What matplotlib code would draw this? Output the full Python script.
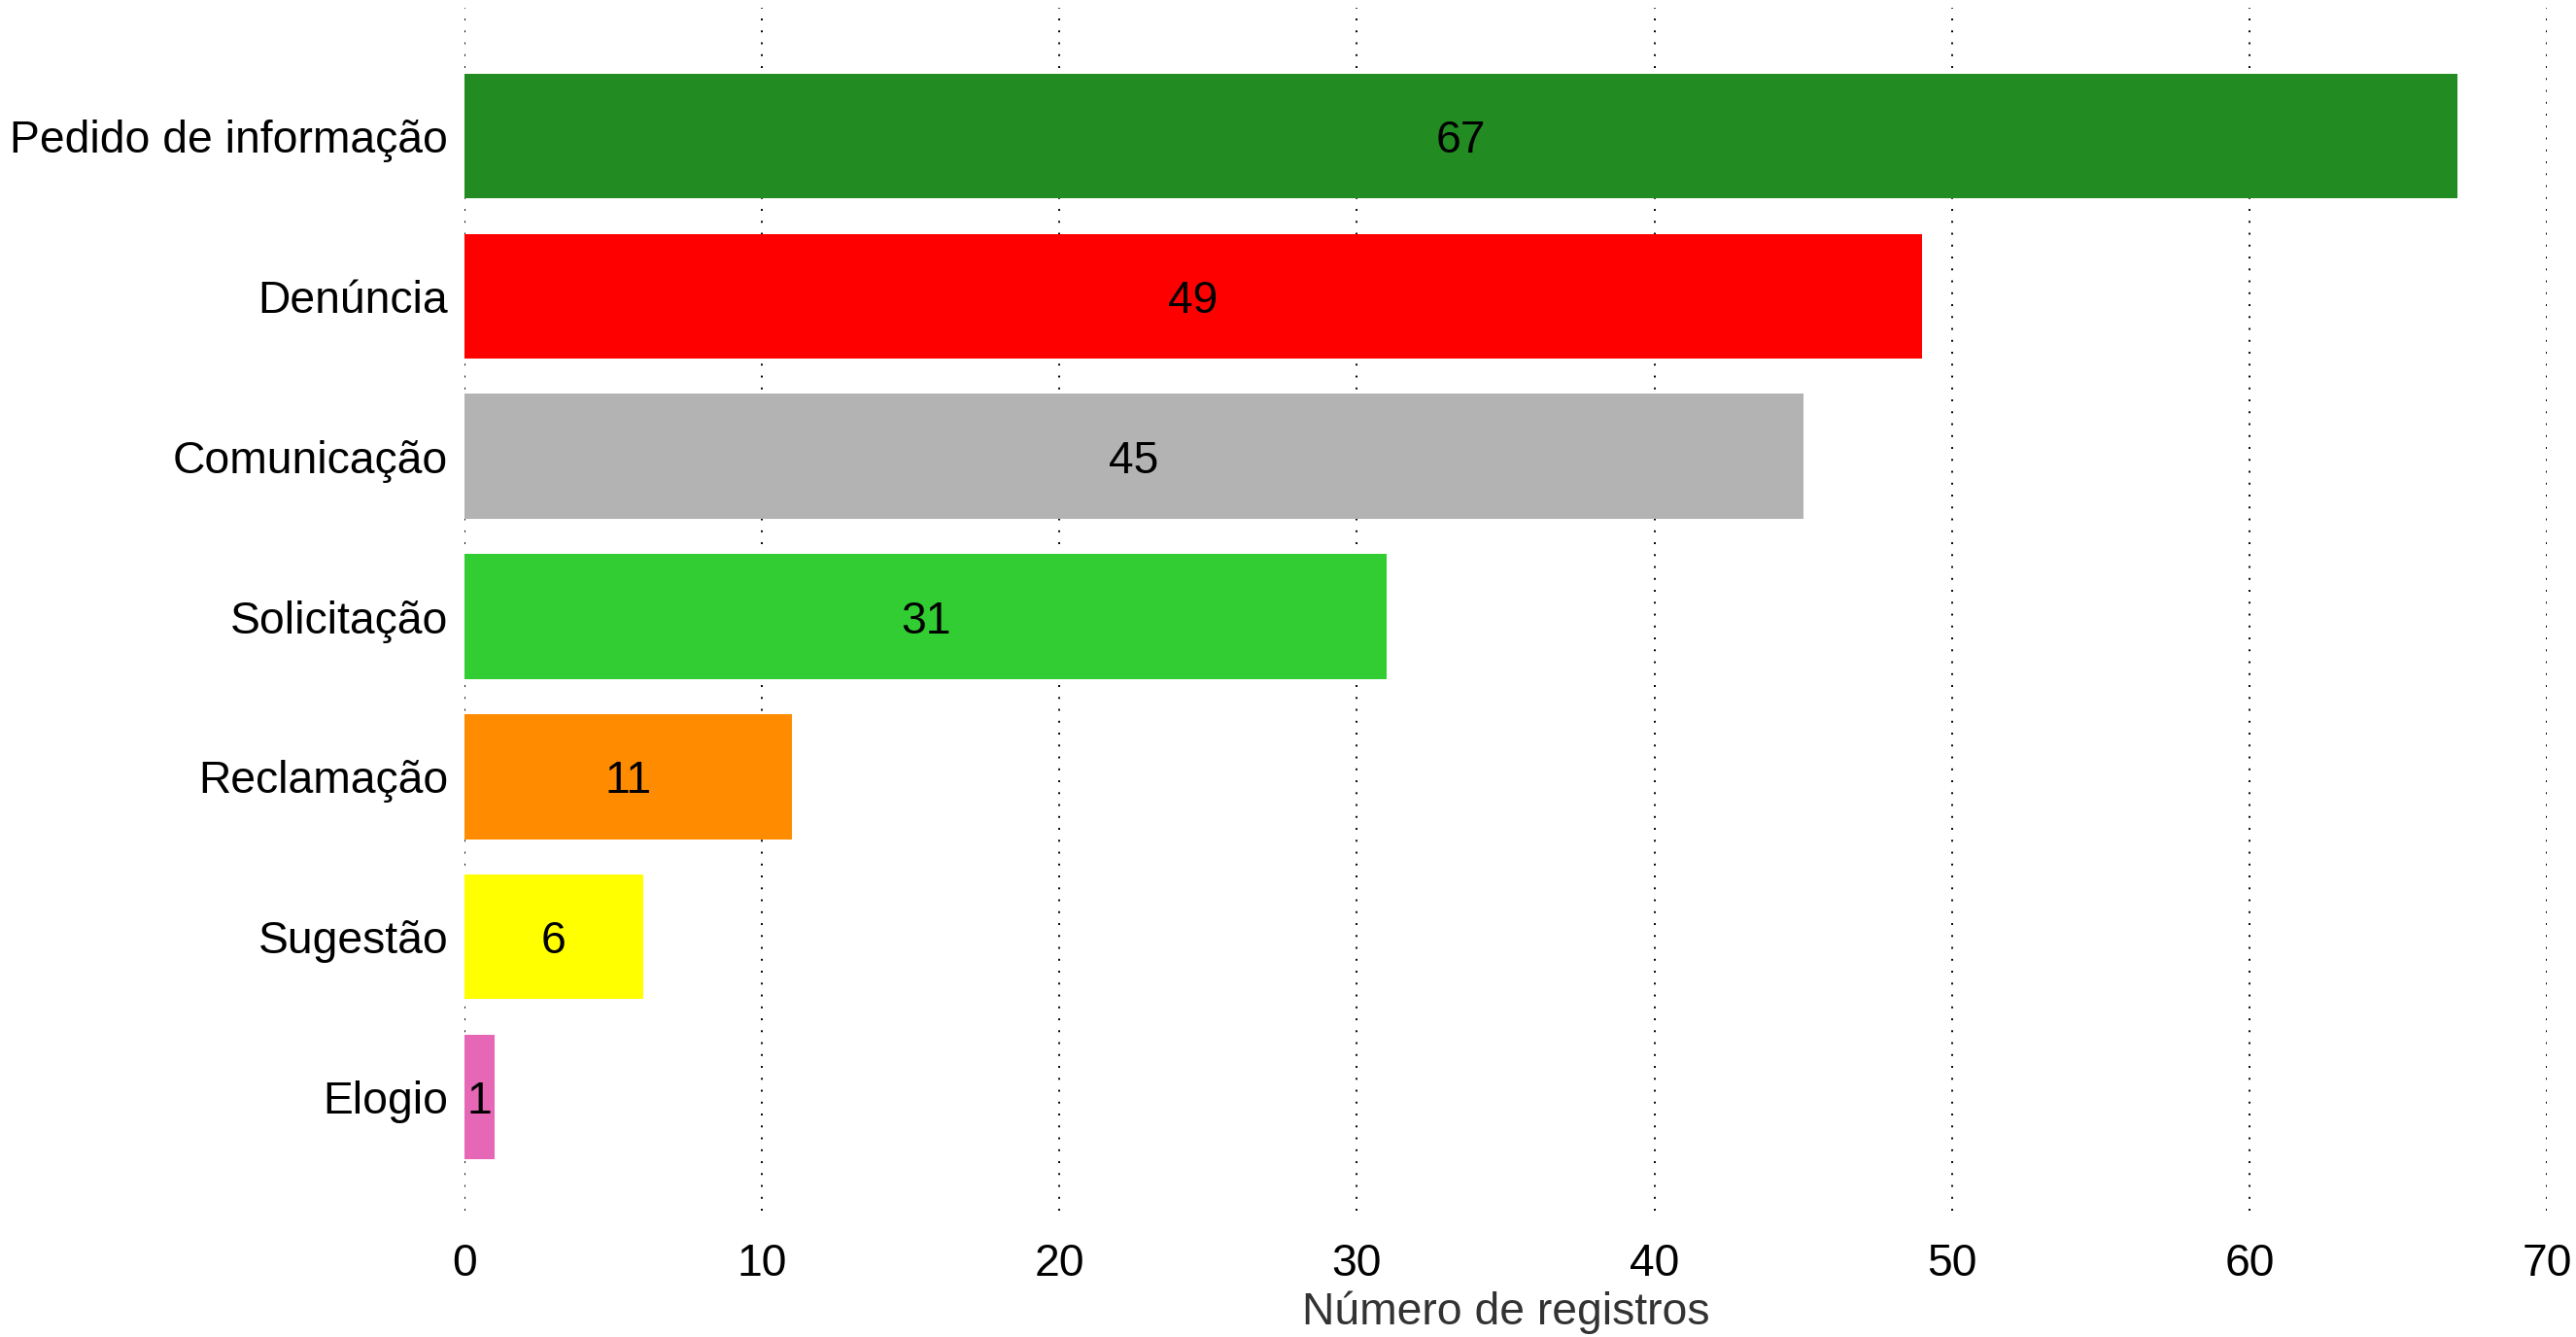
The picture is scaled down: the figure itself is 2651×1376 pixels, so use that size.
import matplotlib
matplotlib.use("Agg")
import matplotlib.pyplot as plt

plt.rcParams['font.family'] = ['Liberation Sans', 'DejaVu Sans']

# registros por tipo de manifestação (de baixo para cima)
categorias = ["Elogio", "Sugestão", "Reclamação", "Solicitação",
              "Comunicação", "Denúncia", "Pedido de informação"]
valores = [1, 6, 11, 31, 45, 49, 67]
cores = ["#E667B6", "#FFFF00", "#FF8C00", "#32CD32",
         "#B3B3B3", "#FF0000", "#228B22"]

fs = 33.3

fig = plt.figure(figsize=(26.51, 13.76), dpi=100)
ax = fig.add_axes([0.1803, 0.0945, 0.8084, 0.8995])

pos = range(len(categorias))
ax.barh(pos, valores, height=0.78, color=cores, zorder=2)

for y, v in zip(pos, valores):
    ax.text(v / 2, y, str(v), ha='center', va='center_baseline', fontsize=fs,
            color='black', zorder=3)

ax.set_yticks(list(pos))
ax.set_yticklabels(categorias, fontsize=fs)
ax.set_xticks(range(0, 71, 10))
ax.tick_params(axis='x', labelsize=fs, length=0, pad=24)
ax.tick_params(axis='y', length=0, pad=12)
ax.set_xlim(0, 70)
ax.set_ylim(-0.71, 6.8)

ax.grid(axis='x', color='black', linestyle=(0, (1, 5.3)), linewidth=1.4,
        zorder=1)
ax.grid(axis='y', visible=False)
for s in ax.spines.values():
    s.set_visible(False)

ax.set_xlabel("Número de registros", fontsize=fs, color='#333333', labelpad=4)

fig.savefig("out.png", dpi=100)
